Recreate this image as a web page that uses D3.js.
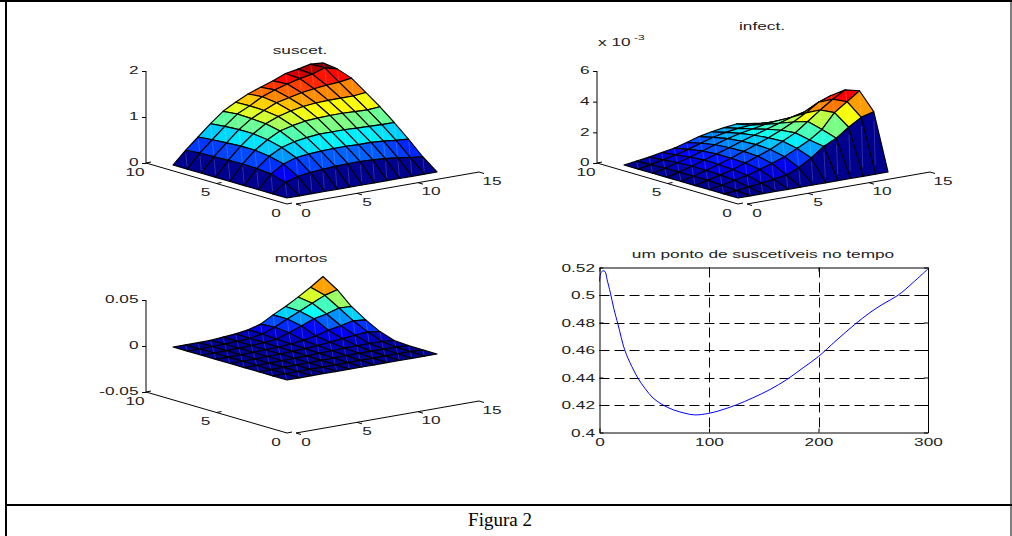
<!DOCTYPE html>
<html>
<head>
<meta charset="utf-8">
<script src="https://cdn.jsdelivr.net/npm/d3@7"></script>
<style>
body { margin: 0; background: #fff; overflow: hidden; }
text { font-family: "Liberation Sans", Arial, sans-serif; font-size: 11.5px; fill: #222; }
</style>
</head>
<body>
<div id="chart"></div>
<script>
// surface grid, rows are y = 1..9, columns x = 1..13
var gridX = [1,2,3,4,5,6,7,8,9,10,11,12,13];
var gridY = [1,2,3,4,5,6,7,8,9];

var suscetZ = [
	[0,0,0,0,0,0,0,0,0,0,0,0,0],
	[0,.2,.28,.32,.34,.36,.37,.37,.36,.34,.31,.27,.24],
	[0,.29,.46,.55,.58,.6,.61,.61,.6,.6,.58,.55,.53],
	[0,.32,.54,.68,.76,.8,.83,.83,.83,.82,.81,.8,.8],
	[0,.33,.58,.76,.9,.97,1.02,1.04,1.05,1.05,1.04,1.03,1.05],
	[0,.32,.58,.8,.97,1.08,1.15,1.2,1.23,1.24,1.24,1.24,1.27],
	[0,.31,.56,.8,.99,1.12,1.24,1.3,1.36,1.4,1.43,1.45,1.49],
	[0,.3,.54,.78,1,1.13,1.28,1.38,1.46,1.53,1.58,1.67,1.6],
	[0,.27,.51,.75,.97,1.12,1.25,1.35,1.44,1.55,1.6,1.66,1.64]
];

var infectZ = [
	[0,0,0,0,0,0,0,0,0,0,0,0,0],
	[0,.07,.17,.27,.38,.52,.85,1.35,1.95,2.34,2.92,3.42,3.65],
	[0,.15,.33,.5,.75,1,1.3,1.7,2.1,2.65,3.6,4.17,4.74],
	[0,.2,.4,.62,.9,1.2,1.5,1.9,2.3,2.9,3.5,4.06,4.53],
	[0,.2,.43,.68,.95,1.25,1.55,1.85,2.2,2.6,3.05,3.6,3.9],
	[0,.2,.44,.7,.95,1.22,1.5,1.75,2,2.25,2.5,2.7,2.8],
	[0,.18,.4,.62,.88,1.15,1.4,1.6,1.75,1.9,2,2.05,2.05],
	[0,.15,.32,.5,.72,.98,1.22,1.4,1.52,1.58,1.55,1.5,1.45],
	[0,.11,.23,.39,.53,.76,1,1.17,1.3,1.4,1.29,1.17,1.03]
];

var mortosZ = [
	[0,0,0,0,0,0,0,0,0,0,0,0,0],
	[0,0,0,0,0,.0002,.0003,.0004,.0005,.0005,.0005,.0004,0],
	[0,0,0,.0002,.0004,.0006,.0008,.001,.0012,.0012,.0011,.0009,.0002],
	[0,0,.0002,.0004,.0007,.001,.0014,.0019,.0024,.0026,.0027,.0025,.0012],
	[0,.0001,.0002,.0005,.0009,.0014,.002,.003,.0042,.0058,.0072,.0085,.0064],
	[0,.0001,.0003,.0006,.001,.0016,.0026,.0042,.0065,.0105,.013,.016,.0147],
	[0,.0001,.0003,.0006,.0011,.0019,.0032,.008,.013,.0185,.0213,.0255,.0247],
	[0,0,.0003,.0006,.0012,.002,.0045,.0095,.016,.0222,.0284,.0347,.0385],
	[0,0,0,.0003,.0013,.0025,.0045,.0084,.0161,.0228,.0307,.0391,.0484]
];

// um ponto de suscetiveis no tempo
var tempo = [0,1.2,3,5,7,10,13,17,23,29.5,35.5,41.6,49,58,67.5,78,87,99,110,125,140,155.6,171,186,200,216,233,247,259,272.6,286,300];
var suscetPonto = [.5098,.5159,.5176,.5171,.511,.5013,.4904,.4783,.4601,.448,.439,.432,.425,.42,.4165,.414,.4128,.4138,.416,.4201,.4252,.4312,.4385,.4471,.4553,.4668,.4785,.4872,.4935,.4998,.5088,.519];

var xTicks3d = [0,5,10,15];
var yTicks3d = [0,5,10];
var tempoTicks = [0,100,200,300];
var pontoTicks = [.4,.42,.44,.46,.48,.5,.52];

var w = 1012, h = 536;
var stretch = 1.5;

var svg = d3.select("#chart").append("svg")
	.attr("width", w)
	.attr("height", h);

// jet colormap
var jet = d3.scaleLinear()
	.domain([0, .125, .375, .625, .875, 1])
	.range(["#00008f", "#0000ff", "#00ffff", "#ffff00", "#ff0000", "#800000"])
	.clamp(true);

// stretched text, the picture has wide letters
function label(g, x, y, str, anchor) {
	return g.append("text")
		.attr("transform", "translate(" + x + "," + y + ") scale(" + stretch + ",1)")
		.attr("text-anchor", anchor || "middle")
		.text(str);
}

function surface(opts) {
	var g = svg.append("g");

	// how one grid step moves on the screen
	var xPx = d3.scaleLinear().domain([1, 13]).range([0, 150]);
	var xPy = d3.scaleLinear().domain([1, 13]).range([0, -26]);
	var yPx = d3.scaleLinear().domain([1, 9]).range([0, -114]);
	var yPy = d3.scaleLinear().domain([1, 9]).range([0, -33]);
	var zPy = d3.scaleLinear().domain(opts.zBase).range([0, -opts.zPixels]);

	function project(i, j) {
		return [
			opts.ox + xPx(gridX[i]) + yPx(gridY[j]),
			opts.oy + xPy(gridX[i]) + yPy(gridY[j]) + zPy(opts.z[j][i])
		];
	}

	var zMax = d3.max(opts.z, function(r) { return d3.max(r); });
	var zMin = d3.min(opts.z, function(r) { return d3.min(r); });
	var t = d3.scaleLinear().domain([zMin, zMax]).range([0, 1]);

	// painter order, farthest face first
	var faces = [];
	d3.range(gridX.length - 1).forEach(function(i) {
		d3.range(gridY.length - 1).forEach(function(j) {
			faces.push({ i: i, j: j });
		});
	});
	faces.sort(function(a, b) {
		return (2.17 * b.i + 4.1 * b.j) - (2.17 * a.i + 4.1 * a.j);
	});

	var line = d3.line();

	var face = g.selectAll("g.face")
		.data(faces)
		.enter()
		.append("g")
		.attr("class", "face");

	face.append("path")
		.attr("d", function(d) {
			return line([project(d.i, d.j), project(d.i + 1, d.j), project(d.i + 1, d.j + 1), project(d.i, d.j + 1)]) + "Z";
		})
		.attr("fill", function(d) { return jet(t(opts.z[d.j][d.i])); })
		.attr("stroke", "#000")
		.attr("stroke-width", 1.15)
		.attr("stroke-linejoin", "round");

	// pale seam down the middle of each face
	face.append("path")
		.attr("d", function(d) {
			var a = project(d.i, d.j), b = project(d.i + 1, d.j + 1);
			var c = 0.15;
			return line([[a[0] + (b[0] - a[0]) * c, a[1] + (b[1] - a[1]) * c], [b[0] - (b[0] - a[0]) * c, b[1] - (b[1] - a[1]) * c]]);
		})
		.attr("stroke", "#fff")
		.attr("stroke-opacity", .22)
		.attr("stroke-width", .8);

	// floor axes
	var ax = svg.append("g").attr("stroke", "#000").attr("fill", "none");
	var fx = opts.axX, fy = opts.axY;

	var xAxisX = d3.scaleLinear().domain([0, 15]).range([fx + 9, fx + 192]);
	var xAxisY = d3.scaleLinear().domain([0, 15]).range([fy, fy - 32]);
	var yAxisX = d3.scaleLinear().domain([0, 10]).range([fx, fx - 141]);
	var yAxisY = d3.scaleLinear().domain([0, 10]).range([fy, fy - 41]);

	ax.append("path").attr("d", line([[xAxisX(0), xAxisY(0)], [xAxisX(15), xAxisY(15)]]));
	ax.append("path").attr("d", line([[yAxisX(0), yAxisY(0)], [yAxisX(10), yAxisY(10)]]));

	xTicks3d.forEach(function(v) {
		ax.append("path").attr("d", line([[xAxisX(v), xAxisY(v)], [xAxisX(v) + 5, xAxisY(v) + 1.5]]));
		label(g, xAxisX(v) + 7 + 3 * String(v).length, xAxisY(v) + 12.5, v);
	});
	yTicks3d.forEach(function(v) {
		ax.append("path").attr("d", line([[yAxisX(v), yAxisY(v)], [yAxisX(v) + 5, yAxisY(v) - 1]]));
		label(g, yAxisX(v) - 11, yAxisY(v) + 12.5, v);
	});

	// vertical axis
	var zScale = d3.scaleLinear().domain(opts.zDomain).range([fy - 41, fy - 41 - 92]);
	var zAxis = d3.axisLeft(zScale)
		.tickValues(opts.zTicks)
		.tickSize(4)
		.tickPadding(1)
		.tickFormat(function(d) { return d; });
	var zg = svg.append("g")
		.attr("transform", "translate(" + (fx - 141) + ",0)")
		.call(zAxis);
	zg.selectAll("text")
		.attr("transform", "translate(0,-1) scale(" + stretch + ",1)")
		.style("font-size", "11.5px")
		.style("font-family", "Liberation Sans");
	zg.select(".domain").attr("d", "M0," + zScale.range()[0] + "V" + zScale.range()[1]);

	label(svg, opts.titleX, opts.titleY, opts.title);
}

// frame of the document table
var frame = svg.append("g").attr("stroke", "#000").attr("fill", "none");
frame.append("line").attr("x1", 0).attr("x2", w).attr("y1", 1).attr("y2", 1).attr("stroke-width", 2);
frame.append("line").attr("x1", 6).attr("x2", 6).attr("y1", 0).attr("y2", h).attr("stroke-width", 2);
frame.append("line").attr("x1", 1011).attr("x2", 1011).attr("y1", 0).attr("y2", h).attr("stroke-width", 1);
frame.append("line").attr("x1", 6).attr("x2", w).attr("y1", 505).attr("y2", 505).attr("stroke-width", 2);

surface({ z: suscetZ, ox: 287, oy: 198, zBase: [0, 2], zPixels: 92.8, axX: 287, axY: 204,
	zDomain: [0, 2], zTicks: [0, 1, 2], title: "suscet.", titleX: 300, titleY: 54 });

surface({ z: infectZ, ox: 738, oy: 198, zBase: [0, 6], zPixels: 92.4, axX: 738, axY: 204,
	zDomain: [0, 6], zTicks: [0, 2, 4, 6], title: "infect.", titleX: 762, titleY: 30 });

surface({ z: mortosZ, ox: 287, oy: 380, zBase: [0, .05], zPixels: 46, axX: 287, axY: 433,
	zDomain: [-.05, .05], zTicks: [-.05, 0, .05], title: "mortos", titleX: 301, titleY: 262 });

// x 10^-3 of the infect. plot
label(svg, 598, 46, "x 10", "start");
svg.append("text")
	.attr("transform", "translate(634,40) scale(" + stretch + ",1)")
	.style("font-size", "8px")
	.text("-3");

// line plot
var box = { left: 599.5, right: 928, top: 267.5, bottom: 432.5 };

var xScale = d3.scaleLinear().domain([0, 300]).range([box.left, box.right]);
var yScale = d3.scaleLinear().domain([.4, .52]).range([box.bottom, box.top]);

var grid = svg.append("g")
	.attr("stroke", "#000")
	.attr("stroke-dasharray", "10,5");

grid.selectAll("line.h")
	.data(pontoTicks.slice(1, -1))
	.enter()
	.append("line")
	.attr("class", "h")
	.attr("x1", box.left).attr("x2", box.right)
	.attr("y1", function(d) { return Math.round(yScale(d)) + .5; })
	.attr("y2", function(d) { return Math.round(yScale(d)) + .5; });

grid.selectAll("line.v")
	.data(tempoTicks.slice(1, -1))
	.enter()
	.append("line")
	.attr("class", "v")
	.attr("y1", box.top).attr("y2", box.bottom)
	.attr("x1", function(d) { return Math.round(xScale(d)) + .5; })
	.attr("x2", function(d) { return Math.round(xScale(d)) + .5; });

var curve = d3.line()
	.x(function(d, i) { return xScale(tempo[i]); })
	.y(function(d) { return yScale(d); })
	.curve(d3.curveCatmullRom);

svg.append("path")
	.attr("d", curve(suscetPonto))
	.attr("fill", "none")
	.attr("stroke", "#0000ff")
	.attr("stroke-width", 1);

var bottomAxis = svg.append("g")
	.attr("transform", "translate(0," + box.bottom + ")")
	.call(d3.axisBottom(xScale).tickValues(tempoTicks).tickSize(-4).tickPadding(5).tickSizeOuter(0));
var leftAxis = svg.append("g")
	.attr("transform", "translate(" + box.left + ",0)")
	.call(d3.axisLeft(yScale).tickValues(pontoTicks).tickSize(-4).tickPadding(3).tickSizeOuter(0)
		.tickFormat(function(d) { return d; }));
svg.append("g")
	.attr("transform", "translate(0," + box.top + ")")
	.call(d3.axisTop(xScale).tickValues(tempoTicks).tickSize(-4).tickFormat("").tickSizeOuter(0));
svg.append("g")
	.attr("transform", "translate(" + box.right + ",0)")
	.call(d3.axisRight(yScale).tickValues(pontoTicks).tickSize(-4).tickFormat("").tickSizeOuter(0));

[bottomAxis, leftAxis].forEach(function(a) {
	a.selectAll("text")
		.attr("transform", "scale(" + stretch + ",1)")
		.style("font-size", "11.5px")
		.style("font-family", "Liberation Sans");
});

label(svg, 763, 258, "um ponto de suscetíveis no tempo");

svg.append("text")
	.attr("x", 500)
	.attr("y", 526)
	.attr("text-anchor", "middle")
	.style("font-family", "Liberation Serif")
	.style("font-size", "19px")
	.style("fill", "#000")
	.text("Figura 2");
</script>
</body>
</html>
